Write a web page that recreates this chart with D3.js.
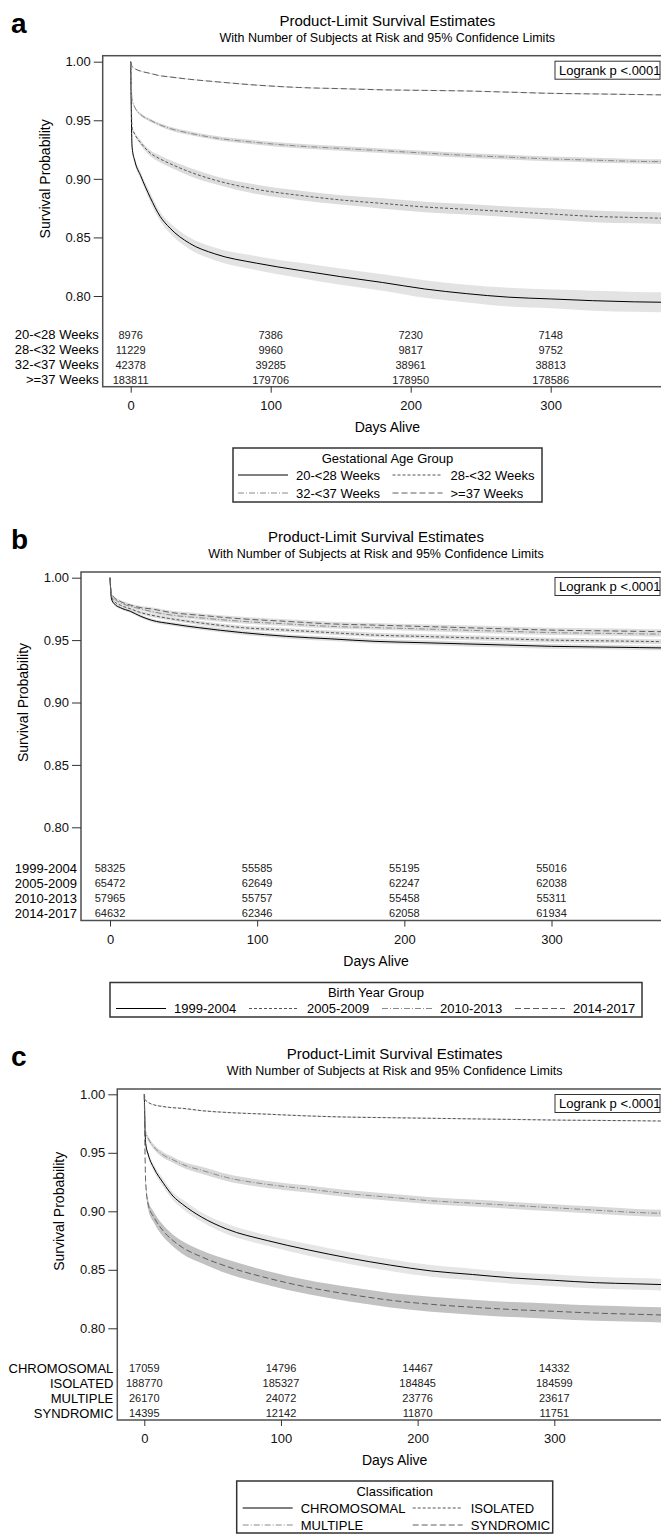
<!DOCTYPE html>
<html>
<head>
<meta charset="utf-8">
<script src="https://cdn.jsdelivr.net/npm/d3@7"></script>
<style>
  body { margin: 0; background: #fff; }
  svg { font-family: "Liberation Sans", Arial, sans-serif; display: block; }
</style>
</head>
<body>
<svg id="chart" width="661" height="1540"></svg>
<script>
const days = [0, 1, 3, 7, 14, 21, 28, 42, 60, 90, 120, 150, 180, 210, 240, 270, 300, 330, 360, 390];
const riskDays = [0, 100, 200, 300];
const yTicks = [0.80, 0.85, 0.90, 0.95, 1.00];
const xTicks = [0, 100, 200, 300];

// panel a : gestational age
const groupsA = ["20-<28 Weeks", "28-<32 Weeks", "32-<37 Weeks", ">=37 Weeks"];
const survA1 = [1.0, 0.927, 0.915, 0.903, 0.884, 0.868, 0.858, 0.845, 0.836, 0.828, 0.822, 0.8165, 0.8115, 0.806, 0.802, 0.799, 0.7975, 0.796, 0.795, 0.7945];
const survA2 = [1.0, 0.944, 0.938, 0.931, 0.922, 0.917, 0.913, 0.906, 0.899, 0.891, 0.886, 0.882, 0.879, 0.876, 0.874, 0.872, 0.870, 0.868, 0.867, 0.866];
const survA3 = [1.0, 0.968, 0.961, 0.955, 0.950, 0.946, 0.943, 0.939, 0.935, 0.931, 0.928, 0.926, 0.924, 0.922, 0.920, 0.9185, 0.917, 0.916, 0.915, 0.9145];
const survA4 = [1.0, 0.996, 0.994, 0.992, 0.990, 0.988, 0.987, 0.985, 0.983, 0.980, 0.978, 0.977, 0.976, 0.9755, 0.975, 0.974, 0.973, 0.9725, 0.972, 0.9715];
const ciA1 = [0, 0.002, 0.003, 0.003, 0.004, 0.004, 0.0045, 0.005, 0.0055, 0.006, 0.0065, 0.007, 0.007, 0.0075, 0.0075, 0.008, 0.008, 0.0085, 0.0085, 0.0085];
const ciA2 = [0, 0.001, 0.0015, 0.002, 0.0025, 0.003, 0.003, 0.0035, 0.0035, 0.004, 0.004, 0.004, 0.0045, 0.0045, 0.0045, 0.0045, 0.005, 0.005, 0.005, 0.005];
const ciA3 = [0, 0.0008, 0.001, 0.0012, 0.0013, 0.0014, 0.0015, 0.0016, 0.0017, 0.0018, 0.0019, 0.002, 0.002, 0.002, 0.002, 0.002, 0.002, 0.002, 0.002, 0.002];
const ciA4 = [0, 0.0003, 0.0003, 0.0004, 0.0004, 0.0004, 0.0005, 0.0005, 0.0005, 0.0005, 0.0005, 0.0005, 0.0005, 0.0005, 0.0005, 0.0005, 0.0005, 0.0005, 0.0005, 0.0005];
const riskA1 = [8976, 7386, 7230, 7148];
const riskA2 = [11229, 9960, 9817, 9752];
const riskA3 = [42378, 39285, 38961, 38813];
const riskA4 = [183811, 179706, 178950, 178586];

// panel b : birth year
const groupsB = ["1999-2004", "2005-2009", "2010-2013", "2014-2017"];
const survB1 = [1.0, 0.983, 0.979, 0.976, 0.973, 0.969, 0.966, 0.963, 0.960, 0.956, 0.953, 0.951, 0.949, 0.948, 0.947, 0.946, 0.945, 0.9445, 0.944, 0.9435];
const survB2 = [1.0, 0.985, 0.981, 0.978, 0.975, 0.972, 0.970, 0.967, 0.964, 0.960, 0.958, 0.956, 0.954, 0.953, 0.952, 0.951, 0.950, 0.9495, 0.949, 0.9485];
const survB3 = [1.0, 0.986, 0.983, 0.980, 0.977, 0.975, 0.973, 0.970, 0.968, 0.965, 0.963, 0.961, 0.960, 0.959, 0.958, 0.957, 0.956, 0.9555, 0.955, 0.9545];
const survB4 = [1.0, 0.987, 0.984, 0.981, 0.978, 0.976, 0.975, 0.972, 0.970, 0.967, 0.965, 0.963, 0.962, 0.961, 0.960, 0.959, 0.958, 0.9575, 0.957, 0.9565];
const ciB = [0, 0.001, 0.001, 0.0011, 0.0012, 0.0013, 0.0014, 0.0015, 0.0016, 0.0017, 0.0017, 0.0018, 0.0018, 0.0018, 0.0019, 0.0019, 0.0019, 0.0019, 0.0019, 0.0019];
const riskB1 = [58325, 55585, 55195, 55016];
const riskB2 = [65472, 62649, 62247, 62038];
const riskB3 = [57965, 55757, 55458, 55311];
const riskB4 = [64632, 62346, 62058, 61934];

// panel c : classification
const groupsC = ["CHROMOSOMAL", "ISOLATED", "MULTIPLE", "SYNDROMIC"];
const survC1 = [1.0, 0.958, 0.948, 0.937, 0.924, 0.913, 0.906, 0.895, 0.885, 0.875, 0.867, 0.860, 0.854, 0.849, 0.846, 0.843, 0.841, 0.839, 0.838, 0.837];
const survC2 = [1.0, 0.995, 0.993, 0.991, 0.9895, 0.9885, 0.988, 0.986, 0.9845, 0.983, 0.9815, 0.9805, 0.980, 0.9795, 0.979, 0.9785, 0.978, 0.9777, 0.9774, 0.977];
const survC3 = [1.0, 0.968, 0.962, 0.955, 0.948, 0.944, 0.940, 0.935, 0.929, 0.923, 0.919, 0.915, 0.912, 0.909, 0.907, 0.905, 0.903, 0.901, 0.899, 0.898];
const survC4 = [1.0, 0.925, 0.905, 0.895, 0.883, 0.875, 0.869, 0.861, 0.853, 0.843, 0.835, 0.829, 0.824, 0.8205, 0.818, 0.816, 0.8145, 0.813, 0.812, 0.811];
const ciC1 = [0, 0.002, 0.0025, 0.003, 0.0035, 0.0035, 0.004, 0.004, 0.0045, 0.0045, 0.005, 0.005, 0.005, 0.005, 0.005, 0.005, 0.005, 0.005, 0.005, 0.005];
const ciC2 = [0, 0.0003, 0.0004, 0.0004, 0.0005, 0.0005, 0.0005, 0.0005, 0.0005, 0.0005, 0.0005, 0.0005, 0.0005, 0.0005, 0.0005, 0.0005, 0.0005, 0.0005, 0.0005, 0.0005];
const ciC3 = [0, 0.0015, 0.002, 0.002, 0.0025, 0.0025, 0.0025, 0.003, 0.003, 0.003, 0.003, 0.003, 0.003, 0.003, 0.003, 0.003, 0.003, 0.003, 0.003, 0.003];
const ciC4 = [0, 0.003, 0.004, 0.0045, 0.005, 0.005, 0.0055, 0.0055, 0.006, 0.006, 0.006, 0.0062, 0.0062, 0.0064, 0.0064, 0.0064, 0.0065, 0.0065, 0.0065, 0.0065];
const riskC1 = [17059, 14796, 14467, 14332];
const riskC2 = [188770, 185327, 184845, 184599];
const riskC3 = [26170, 24072, 23776, 23617];
const riskC4 = [14395, 12142, 11870, 11751];

// line styles shared by the four groups of every panel
const lineColor = ["#000", "#555", "#8a8a8a", "#5e5e5e"];
const lineDash = [null, "3,2", "6,2,1,2", "6,3"];

const svg = d3.select("#chart");

function drawPanel(p) {
  const g = svg.append("g");
  const x = d3.scaleLinear().domain([0, 300]).range([p.x0, p.x300]);
  const y = d3.scaleLinear().domain([0.80, 1.00]).range([p.y80, p.y100]);

  // panel letter and titles
  g.append("text").attr("x", 11).attr("y", p.top - 23)
    .style("font-size", "28px").style("font-weight", "bold").text(p.letter);
  const cx = (p.left + p.right) / 2;
  g.append("text").attr("x", cx).attr("y", p.top - 30).attr("text-anchor", "middle")
    .style("font-size", "15px").text("Product-Limit Survival Estimates");
  g.append("text").attr("x", cx).attr("y", p.top - 14).attr("text-anchor", "middle")
    .style("font-size", "12.5px").text("With Number of Subjects at Risk and 95% Confidence Limits");

  // clip to the frame
  const clipId = "clip" + p.letter;
  g.append("clipPath").attr("id", clipId).append("rect")
    .attr("x", p.left).attr("y", p.top).attr("width", p.right - p.left).attr("height", p.bottom - p.top);
  const plot = g.append("g").attr("clip-path", `url(#${clipId})`);

  const area = d3.area().x(d => x(d.t)).y0(d => y(d.s - d.c)).y1(d => y(d.s + d.c)).curve(d3.curveMonotoneX);
  const line = d3.line().x(d => x(d.t)).y(d => y(d.s)).curve(d3.curveMonotoneX);

  const series = p.surv.map((s, i) => s.map((v, j) => ({ t: days[j], s: v, c: p.ci[i][j] })));

  plot.selectAll("path.band").data(series).enter().append("path")
    .attr("class", "band").attr("d", area)
    .style("fill", (d, i) => p.bandColor[i]).style("stroke", "none");
  plot.selectAll("path.km").data(series).enter().append("path")
    .attr("class", "km").attr("d", line)
    .style("fill", "none")
    .style("stroke", (d, i) => lineColor[i])
    .style("stroke-width", 1)
    .style("stroke-dasharray", (d, i) => lineDash[i]);

  // frame
  g.append("rect").attr("x", p.left).attr("y", p.top)
    .attr("width", p.right - p.left).attr("height", p.bottom - p.top)
    .style("fill", "none").style("stroke", "#505050").style("stroke-width", 1.5);

  // y axis
  const ya = g.append("g").attr("transform", `translate(${p.left},0)`)
    .call(d3.axisLeft(y).tickValues(yTicks).tickFormat(d3.format(".2f")).tickSize(9).tickPadding(3));
  ya.select(".domain").remove();
  ya.selectAll("line").style("stroke", "#333");
  ya.selectAll("text").style("font-size", "13px").style("font-family", "Liberation Sans, Arial, sans-serif").style("fill", "#111");

  // x axis
  const xa = g.append("g").attr("transform", `translate(0,${p.bottom})`)
    .call(d3.axisBottom(x).tickValues(xTicks).tickSize(6).tickPadding(8));
  xa.select(".domain").remove();
  xa.selectAll("line").style("stroke", "#333");
  xa.selectAll("text").style("font-size", "13px").style("font-family", "Liberation Sans, Arial, sans-serif").style("fill", "#111");

  g.append("text").attr("x", cx).attr("y", p.bottom + 45).attr("text-anchor", "middle")
    .style("font-size", "14px").text("Days Alive");
  g.append("text")
    .attr("transform", `translate(${p.left - 53},${(p.y80 + p.y100) / 2}) rotate(-90)`)
    .attr("text-anchor", "middle").style("font-size", "14px").text("Survival Probability");

  // logrank box
  g.append("rect").attr("x", 555).attr("y", p.top + 5.5).attr("width", 105).attr("height", 18)
    .style("fill", "#fff").style("stroke", "#333").style("stroke-width", 1);
  g.append("text").attr("x", 559).attr("y", p.top + 19).style("font-size", "13px").text("Logrank p <.0001");

  // subjects at risk table
  p.risk.forEach((row, i) => {
    const ry = p.bottom - 7 - 15 * (p.risk.length - 1 - i);
    g.append("text").attr("x", p.left - 4).attr("y", ry).attr("dy", "0.35em")
      .attr("text-anchor", "end").style("font-size", "13px").text(p.groups[i]);
    g.selectAll(null).data(row).enter().append("text")
      .attr("x", (d, j) => x(riskDays[j])).attr("y", ry).attr("dy", "0.35em")
      .attr("text-anchor", "middle").style("font-size", "11px").style("fill", "#222")
      .text(d => d);
  });

  // legend
  const L = p.legend;
  g.append("rect").attr("x", L.x).attr("y", L.y).attr("width", L.w).attr("height", L.h)
    .style("fill", "#fff").style("stroke", "#333").style("stroke-width", 1.5);
  g.append("text").attr("x", L.x + L.w / 2).attr("y", L.y + 10).attr("dy", "0.35em")
    .attr("text-anchor", "middle").style("font-size", "13px").text(L.title);
  p.groups.forEach((name, i) => {
    const col = i % L.cols.length;
    const row = Math.floor(i / L.cols.length);
    const ly = L.rowY[row];
    const lx = L.cols[col];
    g.append("line").attr("x1", lx).attr("x2", lx + 50).attr("y1", ly).attr("y2", ly)
      .style("stroke", lineColor[i]).style("stroke-width", 1)
      .style("stroke-dasharray", lineDash[i]);
    g.append("text").attr("x", lx + 58).attr("y", ly).attr("dy", "0.35em")
      .style("font-size", "13px").text(name);
  });
}

drawPanel({
  letter: "a", left: 102.7, right: 672, top: 55.7, bottom: 386.7,
  x0: 130.7, x300: 550.7, y80: 296, y100: 61.7,
  groups: groupsA,
  surv: [survA1, survA2, survA3, survA4],
  ci: [ciA1, ciA2, ciA3, ciA4],
  bandColor: ["#e3e3e3", "#dcdcdc", "#dadada", "#dddddd"],
  risk: [riskA1, riskA2, riskA3, riskA4],
  legend: { x: 233, y: 448, w: 309, h: 54, title: "Gestational Age Group",
            cols: [238, 392.5], rowY: [475, 493] }
});

drawPanel({
  letter: "b", left: 81, right: 671, top: 572, bottom: 920.5,
  x0: 110, x300: 551.5, y80: 827.3, y100: 577.7,
  groups: groupsB,
  surv: [survB1, survB2, survB3, survB4],
  ci: [ciB, ciB, ciB, ciB],
  bandColor: ["#dedede", "#dedede", "#dedede", "#dedede"],
  risk: [riskB1, riskB2, riskB3, riskB4],
  legend: { x: 110, y: 982.5, w: 532, h: 34.5, title: "Birth Year Group",
            cols: [116, 249, 382, 515], rowY: [1008.5] }
});

drawPanel({
  letter: "c", left: 117.3, right: 672, top: 1089, bottom: 1420,
  x0: 144.3, x300: 554.3, y80: 1328.3, y100: 1094.3,
  groups: groupsC,
  surv: [survC1, survC2, survC3, survC4],
  ci: [ciC1, ciC2, ciC3, ciC4],
  bandColor: ["#e5e5e5", "#dddddd", "#d8d8d8", "#c2c2c2"],
  risk: [riskC1, riskC2, riskC3, riskC4],
  legend: { x: 236.7, y: 1481, w: 316, h: 52, title: "Classification",
            cols: [242.7, 412.7], rowY: [1508, 1525] }
});
</script>
</body>
</html>
